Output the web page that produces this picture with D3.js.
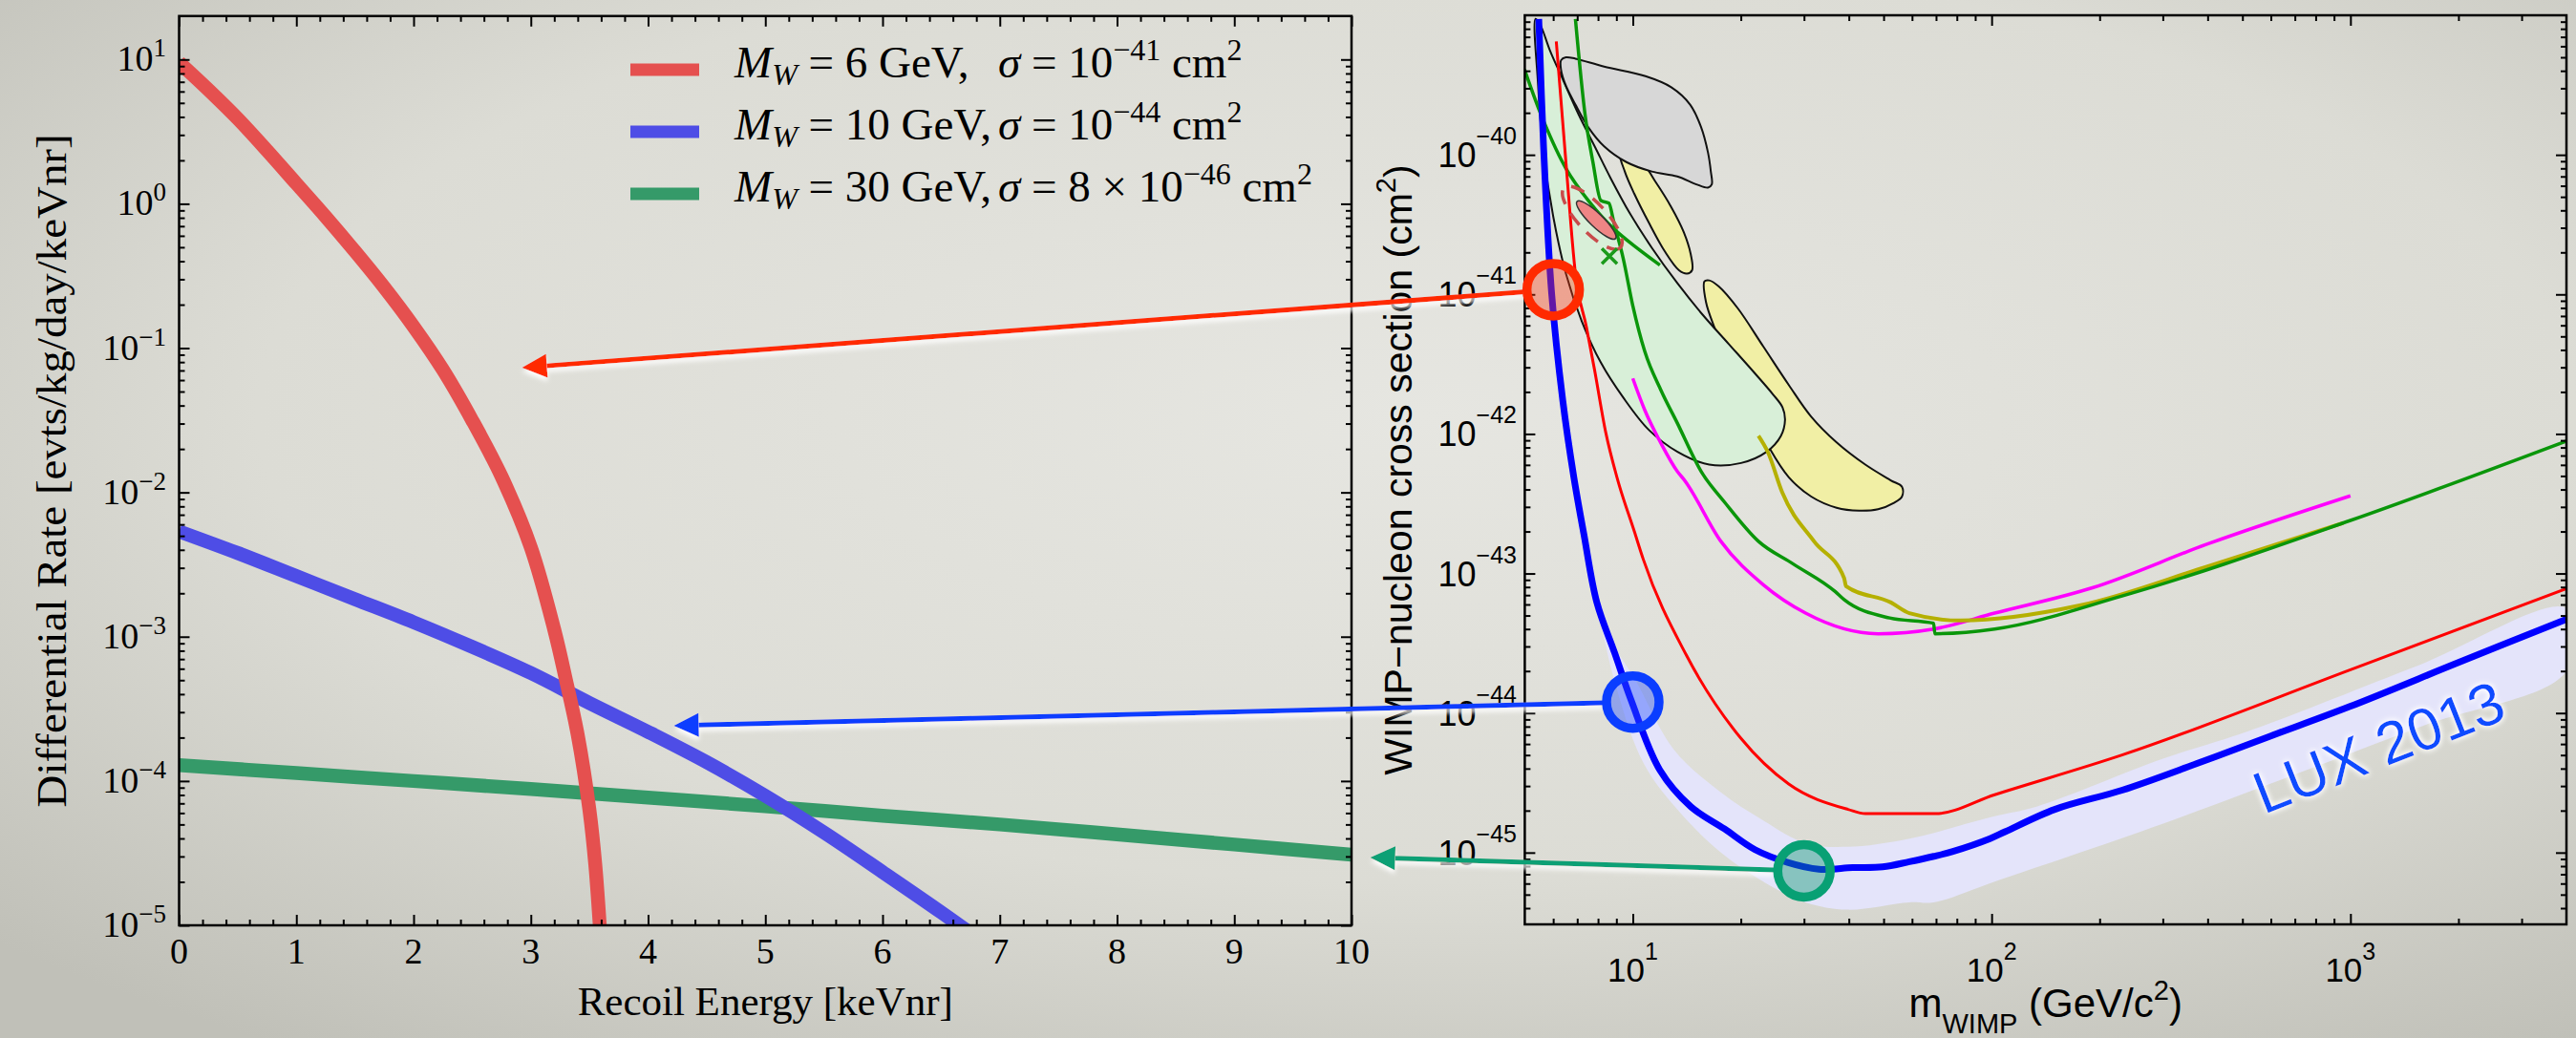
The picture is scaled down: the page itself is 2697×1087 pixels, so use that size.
<!DOCTYPE html>
<html>
<head>
<meta charset="UTF-8">
<script src="https://d3js.org/d3.v7.min.js"></script>
<title>Differential rate vs LUX 2013 limit</title>
<style>body{margin:0;overflow:hidden;}</style>
</head>
<body>
<div id="container"></div>
<script>
// ---------- left panel: differential rate vs recoil energy ----------
var redE     = [0, 0.25, 0.5, 0.75, 1, 1.25, 1.5, 1.75, 2, 2.25, 2.5, 2.75, 3, 3.2, 3.3, 3.4, 3.5, 3.55, 3.6];
var redRate  = [9.55, 6.17, 3.89, 2.34, 1.38, 0.813, 0.468, 0.263, 0.141, 0.0708, 0.0316, 0.0129, 4.17e-3, 1.12e-3, 5.0e-4, 2.09e-4, 6.3e-5, 2.63e-5, 7.1e-6];
var blueE    = [0, 0.5, 1, 1.5, 2, 2.5, 3, 3.5, 4, 4.5, 5, 5.5, 6, 6.5, 7];
var blueRate = [5.37e-3, 3.80e-3, 2.63e-3, 1.82e-3, 1.26e-3, 8.5e-4, 5.6e-4, 3.47e-4, 2.19e-4, 1.35e-4, 7.9e-5, 4.4e-5, 2.34e-5, 1.23e-5, 6.3e-6];
var greenE    = [0, 1, 2, 3, 4, 5, 6, 7, 8, 9, 10];
var greenRate = [1.29e-4, 1.135e-4, 1.0e-4, 8.8e-5, 7.67e-5, 6.68e-5, 5.75e-5, 5.0e-5, 4.27e-5, 3.63e-5, 3.09e-5];

var legendMass = [6, 10, 30];
var legendPre  = ["", "", "8 \u00d7 "];
var legendExp  = [-41, -44, -46];
var energyTicks = [0, 1, 2, 3, 4, 5, 6, 7, 8, 9, 10];
var rateExps = [1, 0, -1, -2, -3, -4, -5];

// ---------- right panel: WIMP-nucleon cross section vs mass ----------
var luxMass  = [5.47, 5.64, 5.94, 6.38, 6.85, 7.31, 7.94, 8.9, 9.9, 11.9, 14.5, 18, 21.9, 27, 33, 41, 49.7, 59, 69, 78, 99, 109, 150, 231, 372, 600, 993, 2000, 4000];
var luxSigma = [9.4e-40, 1.15e-40, 1.02e-41, 1.74e-42, 4.9e-43, 1.9e-43, 6.2e-44, 2.7e-44, 1.23e-44, 3.9e-45, 2.14e-45, 1.48e-45, 1.05e-45, 8.5e-46, 7.6e-46, 7.8e-46, 7.9e-46, 8.6e-46, 9.4e-46, 1.02e-45, 1.26e-45, 1.41e-45, 2.04e-45, 2.8e-45, 4.33e-45, 6.85e-45, 1.11e-44, 2.3e-44, 4.7e-44];
var bandHiMass  = [7.9, 8.6, 10.1, 13, 17.6, 23.1, 30.3, 39.7, 59, 100, 134, 300, 525, 1550, 4000];
var bandHiSigma = [7e-44, 3.5e-44, 1.78e-44, 5.5e-45, 2.7e-45, 1.7e-45, 1.17e-45, 1.1e-45, 1.26e-45, 1.8e-45, 2.14e-45, 4.7e-45, 7.5e-45, 2.2e-44, 5.6e-44];
var bandLoMass  = [7.9, 8.85, 10.7, 13.3, 17.6, 23.1, 30.3, 39.7, 59, 69, 102, 302, 1550, 4000];
var bandLoSigma = [7e-44, 1.78e-44, 4.4e-45, 2.04e-45, 1.0e-45, 6.2e-46, 4.4e-46, 3.9e-46, 4.4e-46, 4.4e-46, 6.2e-46, 1.62e-45, 7.9e-45, 2.0e-44];

var xenonMass  = [6.12, 6.51, 6.92, 7.43, 7.82, 8.41, 9.03, 10.1, 10.7, 14.1, 20, 27.2, 39.8, 44.5, 65.3, 69.7, 102, 231, 1000, 4000];
var xenonSigma = [6.5e-40, 8.9e-41, 1.41e-41, 5.8e-42, 2.9e-42, 1.02e-42, 4.9e-43, 2.0e-43, 1.26e-43, 2.6e-44, 6.6e-45, 3.1e-45, 2.04e-45, 1.9e-45, 1.9e-45, 1.9e-45, 2.6e-45, 5.0e-45, 2.04e-44, 7.8e-44];
var magMass  = [10, 10.8, 12.0, 13.3, 13.9, 17.6, 23.1, 30.3, 48.3, 69, 102, 191, 398, 1000];
var magSigma = [2.5e-42, 1.48e-42, 8.5e-43, 5.4e-43, 4.7e-43, 1.7e-43, 8.3e-44, 5.2e-44, 3.7e-44, 4.0e-44, 5.2e-44, 7.9e-44, 1.62e-43, 3.6e-43];
var oliveMass  = [22.4, 23.8, 26.1, 32, 38.8, 39.3, 52.4, 59, 82, 176, 398, 955];
var oliveSigma = [9.7e-43, 7.4e-43, 3.8e-43, 1.7e-43, 9.3e-44, 8.1e-44, 6.2e-44, 5.2e-44, 4.6e-44, 5.9e-44, 1.12e-43, 2.3e-43];
var cdmsMass  = [6.92, 7.36, 7.74, 8.15, 8.58, 8.85, 9.4, 10, 10.8, 12.0, 13.3, 15.5, 18.1, 22.4, 28, 36.7, 38.8, 52, 68.9, 69.5, 102, 231, 1000, 4000];
var cdmsSigma = [9.4e-40, 1.95e-40, 8.9e-41, 4.7e-41, 4.5e-41, 3.3e-41, 1.82e-41, 8.3e-42, 3.9e-42, 2.04e-42, 1.2e-42, 5.4e-43, 3.2e-43, 1.7e-43, 1.17e-43, 7.4e-44, 6.5e-44, 4.8e-44, 4.4e-44, 3.7e-44, 4.0e-44, 6.9e-44, 2.4e-43, 8.9e-43];
var shortMass  = [4.99, 5.64, 6.51, 7.52, 8.85, 11.9];
var shortSigma = [4.1e-40, 1.75e-40, 8.0e-41, 4.7e-41, 2.95e-41, 1.62e-41];

// allowed regions (closed contours)
var damaMass  = [6.31, 6.51, 6.92, 8.32, 10.85, 12.8, 14.45, 15.5, 16.2, 16.5, 16.6, 16.2, 15.05, 13.3, 11.3, 9.6, 8.32, 7.51, 6.92, 6.51, 6.31];
var damaSigma = [4.76e-40, 5.0e-40, 4.89e-40, 4.29e-40, 3.66e-40, 3.05e-40, 2.29e-40, 1.58e-40, 1.04e-40, 7.59e-41, 6.14e-41, 5.82e-41, 6.14e-41, 7.0e-41, 7.59e-41, 8.87e-41, 1.15e-40, 1.58e-40, 2.29e-40, 3.13e-40, 4.07e-40];
var cresst1Mass  = [9.22, 10.42, 11.54, 12.78, 13.87, 14.51, 14.63, 14.16, 13.45, 12.27, 11.08, 10.1, 9.5];
var cresst1Sigma = [1.04e-40, 9.35e-41, 6.47e-41, 4.25e-41, 2.79e-41, 1.93e-41, 1.49e-41, 1.41e-41, 1.49e-41, 2.04e-41, 3.27e-41, 5.25e-41, 7.59e-41];
var cresst2Mass  = [15.84, 16.33, 17.37, 19.63, 23.12, 27.22, 31.42, 36.98, 44.46, 52.36, 56.26, 56.26, 53.43, 48.27, 42.7, 36.98, 31.42, 27.22, 24.08, 21.75, 18.84, 17.02, 16.0];
var cresst2Sigma = [1.24e-41, 1.26e-41, 1.14e-41, 7.93e-42, 4.22e-42, 2.24e-42, 1.33e-42, 8.7e-43, 6.03e-43, 4.65e-43, 4.18e-43, 3.56e-43, 3.21e-43, 2.89e-43, 2.82e-43, 2.96e-43, 3.56e-43, 4.89e-43, 7.85e-43, 1.33e-42, 2.77e-42, 5.48e-42, 8.79e-42];
var siMass  = [5.36, 5.44, 5.64, 6.0, 6.51, 7.21, 8.15, 9.41, 11.08, 13.32, 16.33, 20.03, 23.6, 25.87, 26.56, 26.14, 24.59, 21.75, 18.47, 15.67, 13.32, 11.31, 9.8, 8.67, 7.83, 7.06, 6.38, 5.88, 5.53];
var siSigma = [9.44e-40, 3.3e-40, 1.04e-40, 3.63e-41, 1.41e-41, 6.41e-42, 3.24e-42, 1.82e-42, 1.07e-42, 7.45e-43, 6.03e-43, 6.19e-43, 7.45e-43, 9.68e-43, 1.26e-42, 1.55e-42, 1.92e-42, 2.77e-42, 4.44e-42, 7.13e-42, 1.2e-41, 2.15e-41, 3.83e-41, 6.82e-41, 1.15e-40, 1.95e-40, 3.48e-40, 5.58e-40, 8.49e-40];
var cogentMass = [7.91], cogentSigma = [3.41e-41];
var cogentDashMass = [7.71], cogentDashSigma = [3.54e-41];
var crossMass = [8.61], crossSigma = [1.88e-41];
var massExps = [1, 2, 3];
var sigmaExps = [-40, -41, -42, -43, -44, -45];
var luxLabelMass = 573, luxLabelSigma = 1.875e-45;

// ---------- arrows linking the two panels ----------
var markMass   = [6, 10, 30];
var markSigma  = [1.08e-41, 1.2e-44, 7.4e-46];
var tipEnergy  = [2.925, 4.22, 10.16];
var tipRate    = [0.0731, 2.42e-4, 2.95e-5];

var W = 2697, H = 1087;
var MINUS = "\u2212";
var serif = "'Liberation Serif', 'Times New Roman', serif";
var sans = "'Liberation Sans', Arial, sans-serif";

var svg = d3.select("#container").append("svg").attr("width", W).attr("height", H);
var defs = svg.append("defs");

// background
var bg = defs.append("radialGradient").attr("id", "bg").attr("cx", "55%").attr("cy", "40%").attr("r", "75%");
bg.append("stop").attr("offset", "0%").attr("stop-color", "#e6e6e1");
bg.append("stop").attr("offset", "60%").attr("stop-color", "#dcdcd5");
bg.append("stop").attr("offset", "100%").attr("stop-color", "#c0c0b8");
svg.append("rect").attr("width", W).attr("height", H).attr("fill", "url(#bg)");

// white shadow under the arrows, and glow for the LUX label
function userFilter(id) {
  return defs.append("filter").attr("id", id).attr("filterUnits", "userSpaceOnUse")
    .attr("x", 0).attr("y", 0).attr("width", W).attr("height", H);
}
var sh = userFilter("shadow");
sh.append("feGaussianBlur").attr("in", "SourceAlpha").attr("stdDeviation", 2.5).attr("result", "b");
sh.append("feOffset").attr("in", "b").attr("dy", 4).attr("result", "o");
sh.append("feFlood").attr("flood-color", "#ffffff").attr("flood-opacity", 0.95);
sh.append("feComposite").attr("in2", "o").attr("operator", "in").attr("result", "s");
var shm = sh.append("feMerge");
shm.append("feMergeNode").attr("in", "s");
shm.append("feMergeNode").attr("in", "SourceGraphic");

var gl = userFilter("glow");
gl.append("feGaussianBlur").attr("in", "SourceAlpha").attr("stdDeviation", 3).attr("result", "b");
gl.append("feFlood").attr("flood-color", "#ffffff").attr("flood-opacity", 1);
gl.append("feComposite").attr("in2", "b").attr("operator", "in").attr("result", "s");
var glm = gl.append("feMerge");
glm.append("feMergeNode").attr("in", "s");
glm.append("feMergeNode").attr("in", "s");
glm.append("feMergeNode").attr("in", "SourceGraphic");

// panel boxes
var L = {x0: 187.5, y0: 16.8, x1: 1415, y1: 969};
var R = {x0: 1596.4, y0: 16, x1: 2687, y1: 968};

var xL = d3.scaleLinear().domain([0, 10]).range([L.x0, L.x1]);
var yL = d3.scaleLog().domain([1e-5, 20]).range([L.y1, L.y0]);
var xR = d3.scaleLog().domain([5, 4000]).range([R.x0, R.x1]);
var yR = d3.scaleLog().domain([3.06e-46, 1e-39]).range([R.y1, R.y0]);

function clip(id, b) {
  defs.append("clipPath").attr("id", id).append("rect")
    .attr("x", b.x0).attr("y", b.y0).attr("width", b.x1 - b.x0).attr("height", b.y1 - b.y0);
}
clip("clipL", L);
clip("clipR", R);

function logMinors(lo, hi) {
  var out = [];
  for (var e = Math.floor(Math.log10(lo)); e <= Math.ceil(Math.log10(hi)); e++) {
    for (var k = 2; k <= 9; k++) {
      var v = k * Math.pow(10, e);
      if (v > lo * 1.001 && v < hi * 0.999) out.push(v);
    }
  }
  return out;
}

function axes(x, y, b, xMaj, xMin, yMaj, yMin) {
  var g = svg.append("g");
  var sides = [
    [d3.axisBottom, x, "translate(0," + b.y1 + ")", xMaj, xMin],
    [d3.axisTop, x, "translate(0," + b.y0 + ")", xMaj, xMin],
    [d3.axisLeft, y, "translate(" + b.x0 + ",0)", yMaj, yMin],
    [d3.axisRight, y, "translate(" + b.x1 + ",0)", yMaj, yMin]
  ];
  sides.forEach(function (s) {
    g.append("g").attr("transform", s[2])
      .call(s[0](s[1]).tickValues(s[3]).tickSizeInner(-11).tickSizeOuter(0).tickFormat(""));
    g.append("g").attr("transform", s[2])
      .call(s[0](s[1]).tickValues(s[4]).tickSizeInner(-6).tickSizeOuter(0).tickFormat(""));
  });
  g.selectAll(".domain").remove();
  g.selectAll("text").remove();
  g.selectAll("line").attr("stroke", "#000").attr("stroke-width", 2);
  g.append("rect").attr("x", b.x0).attr("y", b.y0).attr("width", b.x1 - b.x0).attr("height", b.y1 - b.y0)
    .attr("fill", "none").attr("stroke", "#000").attr("stroke-width", 2.5);
}

function zip(a, b) { return a.map(function (v, i) { return [v, b[i]]; }); }

// ================= LEFT PANEL =================
var lineL = d3.line().x(function (d) { return xL(d[0]); }).y(function (d) { return yL(d[1]); }).curve(d3.curveCatmullRom.alpha(0.5));
var gL = svg.append("g").attr("clip-path", "url(#clipL)");
var spectra = [
  {e: greenE, r: greenRate, c: "#359a69"},
  {e: blueE, r: blueRate, c: "#4e4de6"},
  {e: redE, r: redRate, c: "#e5504f"}
];
gL.selectAll("path.spec").data(spectra).enter().append("path")
  .attr("d", function (d) { return lineL(zip(d.e, d.r)); })
  .attr("fill", "none").attr("stroke", function (d) { return d.c; }).attr("stroke-width", 14.5);

var eMinor = d3.range(0, 10.01, 0.2).filter(function (v) { return Math.abs(v - Math.round(v)) > 0.01; });
axes(xL, yL, L, energyTicks, eMinor, rateExps.map(function (k) { return Math.pow(10, k); }), logMinors(1e-5, 20));

svg.selectAll("text.xl").data(energyTicks).enter().append("text")
  .attr("x", function (d) { return xL(d); }).attr("y", 1009).attr("text-anchor", "middle")
  .attr("font-family", serif).attr("font-size", 38).text(function (d) { return d; });
rateExps.forEach(function (k) {
  var t = svg.append("text").attr("x", 174).attr("y", yL(Math.pow(10, k)) + 12).attr("text-anchor", "end")
    .attr("font-family", serif).attr("font-size", 38);
  t.append("tspan").text("10");
  t.append("tspan").attr("dy", -15).attr("font-size", 27).text(k < 0 ? MINUS + (-k) : k);
});
svg.append("text").attr("x", (L.x0 + L.x1) / 2).attr("y", 1063).attr("text-anchor", "middle")
  .attr("font-family", serif).attr("font-size", 43).text("Recoil Energy [keVnr]");
svg.append("text").attr("transform", "translate(69," + ((L.y0 + L.y1) / 2) + ") rotate(-90)")
  .attr("text-anchor", "middle").attr("font-family", serif).attr("font-size", 44)
  .attr("textLength", 705).attr("lengthAdjust", "spacingAndGlyphs")
  .text("Differential Rate [evts/kg/day/keVnr]");

// legend
var legColors = ["#e5504f", "#4e4de6", "#359a69"];
legendMass.forEach(function (mw, i) {
  var yc = 73 + i * 65;
  svg.append("rect").attr("x", 660).attr("y", yc - 6.5).attr("width", 72).attr("height", 13).attr("fill", legColors[i]);
  var a = svg.append("text").attr("x", 769).attr("y", yc + 8).attr("font-family", serif).attr("font-size", 47);
  a.append("tspan").attr("font-style", "italic").text("M");
  a.append("tspan").attr("font-style", "italic").attr("font-size", 32).attr("dy", 8).text("W");
  a.append("tspan").attr("dy", -8).text(" = " + mw + " GeV,");
  var b = svg.append("text").attr("x", 1045).attr("y", yc + 8).attr("font-family", serif).attr("font-size", 47);
  b.append("tspan").attr("font-style", "italic").text("\u03c3");
  b.append("tspan").text(" = " + legendPre[i] + "10");
  b.append("tspan").attr("font-size", 32).attr("dy", -18).text(MINUS + (-legendExp[i]));
  b.append("tspan").attr("dy", 18).text(" cm");
  b.append("tspan").attr("font-size", 32).attr("dy", -18).text("2");
});

// ================= RIGHT PANEL =================
var lineR = d3.line().x(function (d) { return xR(d[0]); }).y(function (d) { return yR(d[1]); }).curve(d3.curveMonotoneX);
var smoothR = d3.line().x(function (d) { return xR(d[0]); }).y(function (d) { return yR(d[1]); }).curve(d3.curveCatmullRom.alpha(0.5));
var blob = d3.line().x(function (d) { return xR(d[0]); }).y(function (d) { return yR(d[1]); }).curve(d3.curveCatmullRomClosed.alpha(0.5));
var gR = svg.append("g").attr("clip-path", "url(#clipR)");

// LUX +/- band
var bandPts = zip(bandHiMass, bandHiSigma).concat(zip(bandLoMass, bandLoSigma).reverse().slice(0, -1));
gR.append("path").attr("d", blob(bandPts)).attr("fill", "#e4e4fa");

var regions = [
  {m: cresst2Mass, s: cresst2Sigma, f: "#f1efa5"},
  {m: siMass, s: siSigma, f: "#d8efd8"},
  {m: cresst1Mass, s: cresst1Sigma, f: "#f1efa5"},
  {m: damaMass, s: damaSigma, f: "#d7d7d7"}
];
regions.forEach(function (r) {
  gR.append("path").attr("d", blob(zip(r.m, r.s))).attr("fill", r.f)
    .attr("stroke", "#111").attr("stroke-width", 2);
});

var limits = [
  {m: shortMass, s: shortSigma, c: "#0a960a", w: 3.5, sm: true},
  {m: xenonMass, s: xenonSigma, c: "#ff0000", w: 3, sm: false},
  {m: magMass, s: magSigma, c: "#ff00ff", w: 3.5, sm: false},
  {m: oliveMass, s: oliveSigma, c: "#b5b000", w: 4, sm: false},
  {m: cdmsMass, s: cdmsSigma, c: "#0a960a", w: 3.5, sm: false},
  {m: luxMass, s: luxSigma, c: "#0000ff", w: 7, sm: true}
];
limits.forEach(function (l) {
  gR.append("path").attr("d", (l.sm ? smoothR : lineR)(zip(l.m, l.s))).attr("fill", "none")
    .attr("stroke", l.c).attr("stroke-width", l.w).attr("stroke-linejoin", "round");
});

// CoGeNT-like ellipse and best-fit cross
gR.append("ellipse").attr("cx", xR(cogentMass[0])).attr("cy", yR(cogentSigma[0])).attr("rx", 28).attr("ry", 7)
  .attr("transform", "rotate(44," + xR(cogentMass[0]) + "," + yR(cogentSigma[0]) + ")")
  .attr("fill", "#ef8585").attr("stroke", "#333").attr("stroke-width", 1.5);
gR.append("ellipse").attr("cx", xR(cogentDashMass[0])).attr("cy", yR(cogentDashSigma[0])).attr("rx", 43).attr("ry", 15)
  .attr("transform", "rotate(47," + xR(cogentDashMass[0]) + "," + yR(cogentDashSigma[0]) + ")")
  .attr("fill", "none").attr("stroke", "#c84b4b").attr("stroke-width", 3.5).attr("stroke-dasharray", "15 11");
var cx0 = xR(crossMass[0]), cy0 = yR(crossSigma[0]);
gR.append("path").attr("d", "M" + (cx0 - 8) + "," + (cy0 - 8) + "L" + (cx0 + 8) + "," + (cy0 + 8) +
  "M" + (cx0 - 8) + "," + (cy0 + 8) + "L" + (cx0 + 8) + "," + (cy0 - 8))
  .attr("stroke", "#1a9a1a").attr("stroke-width", 3.5);

var mMinor = [6, 7, 8, 9, 20, 30, 40, 50, 60, 70, 80, 90, 200, 300, 400, 500, 600, 700, 800, 900, 2000, 3000];
axes(xR, yR, R, massExps.map(function (k) { return Math.pow(10, k); }), mMinor,
  sigmaExps.map(function (k) { return Math.pow(10, k); }), logMinors(3.06e-46, 1e-39));

massExps.forEach(function (k) {
  var t = svg.append("text").attr("x", xR(Math.pow(10, k))).attr("y", 1028).attr("text-anchor", "middle")
    .attr("font-family", sans).attr("font-size", 35);
  t.append("tspan").text("10");
  t.append("tspan").attr("dy", -23).attr("font-size", 25).text(k);
});
sigmaExps.forEach(function (k) {
  var t = svg.append("text").attr("x", 1588).attr("y", yR(Math.pow(10, k)) + 13).attr("text-anchor", "end")
    .attr("font-family", sans).attr("font-size", 36);
  t.append("tspan").text("10");
  t.append("tspan").attr("dy", -24).attr("font-size", 25).text(MINUS + (-k));
});

var xt = svg.append("text").attr("x", (R.x0 + R.x1) / 2).attr("y", 1065).attr("text-anchor", "middle")
  .attr("font-family", sans).attr("font-size", 42);
xt.append("tspan").text("m");
xt.append("tspan").attr("dy", 17).attr("font-size", 29).text("WIMP");
xt.append("tspan").attr("dy", -17).text(" (GeV/c");
xt.append("tspan").attr("dy", -18).attr("font-size", 29).text("2");
xt.append("tspan").attr("dy", 18).text(")");

var yt = svg.append("text").attr("transform", "translate(1478," + ((R.y0 + R.y1) / 2) + ") rotate(-90)")
  .attr("text-anchor", "middle").attr("font-family", sans).attr("font-size", 41);
yt.append("tspan").text("WIMP" + MINUS + "nucleon cross section (cm");
yt.append("tspan").attr("dy", -17).attr("font-size", 29).text("2");
yt.append("tspan").attr("dy", 17).text(")");

// LUX label (filter on the untransformed parent so its region is in page space)
svg.append("g").attr("filter", "url(#glow)").append("text")
  .attr("transform", "translate(" + xR(luxLabelMass) + "," + yR(luxLabelSigma) + ") rotate(-21.5)")
  .attr("font-family", sans).attr("font-size", 62).attr("fill", "#0a4bff")
  .text("LUX 2013");

// ================= ARROWS =================
var arrowColor = ["#ff2a00", "#0a3dff", "#08a074"];
var ringFill = ["rgba(255,60,20,0.38)", "rgba(40,80,255,0.42)", "rgba(8,150,110,0.42)"];
markMass.forEach(function (mm, i) {
  var cx = xR(mm), cy = yR(markSigma[i]);
  var tx = xL(tipEnergy[i]), ty = yL(tipRate[i]);
  var dx = tx - cx, dy = ty - cy, len = Math.sqrt(dx * dx + dy * dy);
  var ux = dx / len, uy = dy / len;
  var r = 27.5, head = 26, hw = 12.5;
  var sx = cx + ux * (r + 4), sy = cy + uy * (r + 4);
  var bx = tx - ux * head, by = ty - uy * head;
  var a = svg.append("g").attr("filter", "url(#shadow)");
  a.append("line").attr("x1", sx).attr("y1", sy).attr("x2", bx).attr("y2", by)
    .attr("stroke", arrowColor[i]).attr("stroke-width", 5);
  a.append("path").attr("d", "M" + tx + "," + ty + "L" + (bx - uy * hw) + "," + (by + ux * hw) +
    "L" + (bx + uy * hw) + "," + (by - ux * hw) + "Z").attr("fill", arrowColor[i]);
  svg.append("circle").attr("cx", cx).attr("cy", cy).attr("r", r)
    .attr("fill", ringFill[i]).attr("stroke", arrowColor[i]).attr("stroke-width", 9.5);
});
</script>
</body>
</html>
